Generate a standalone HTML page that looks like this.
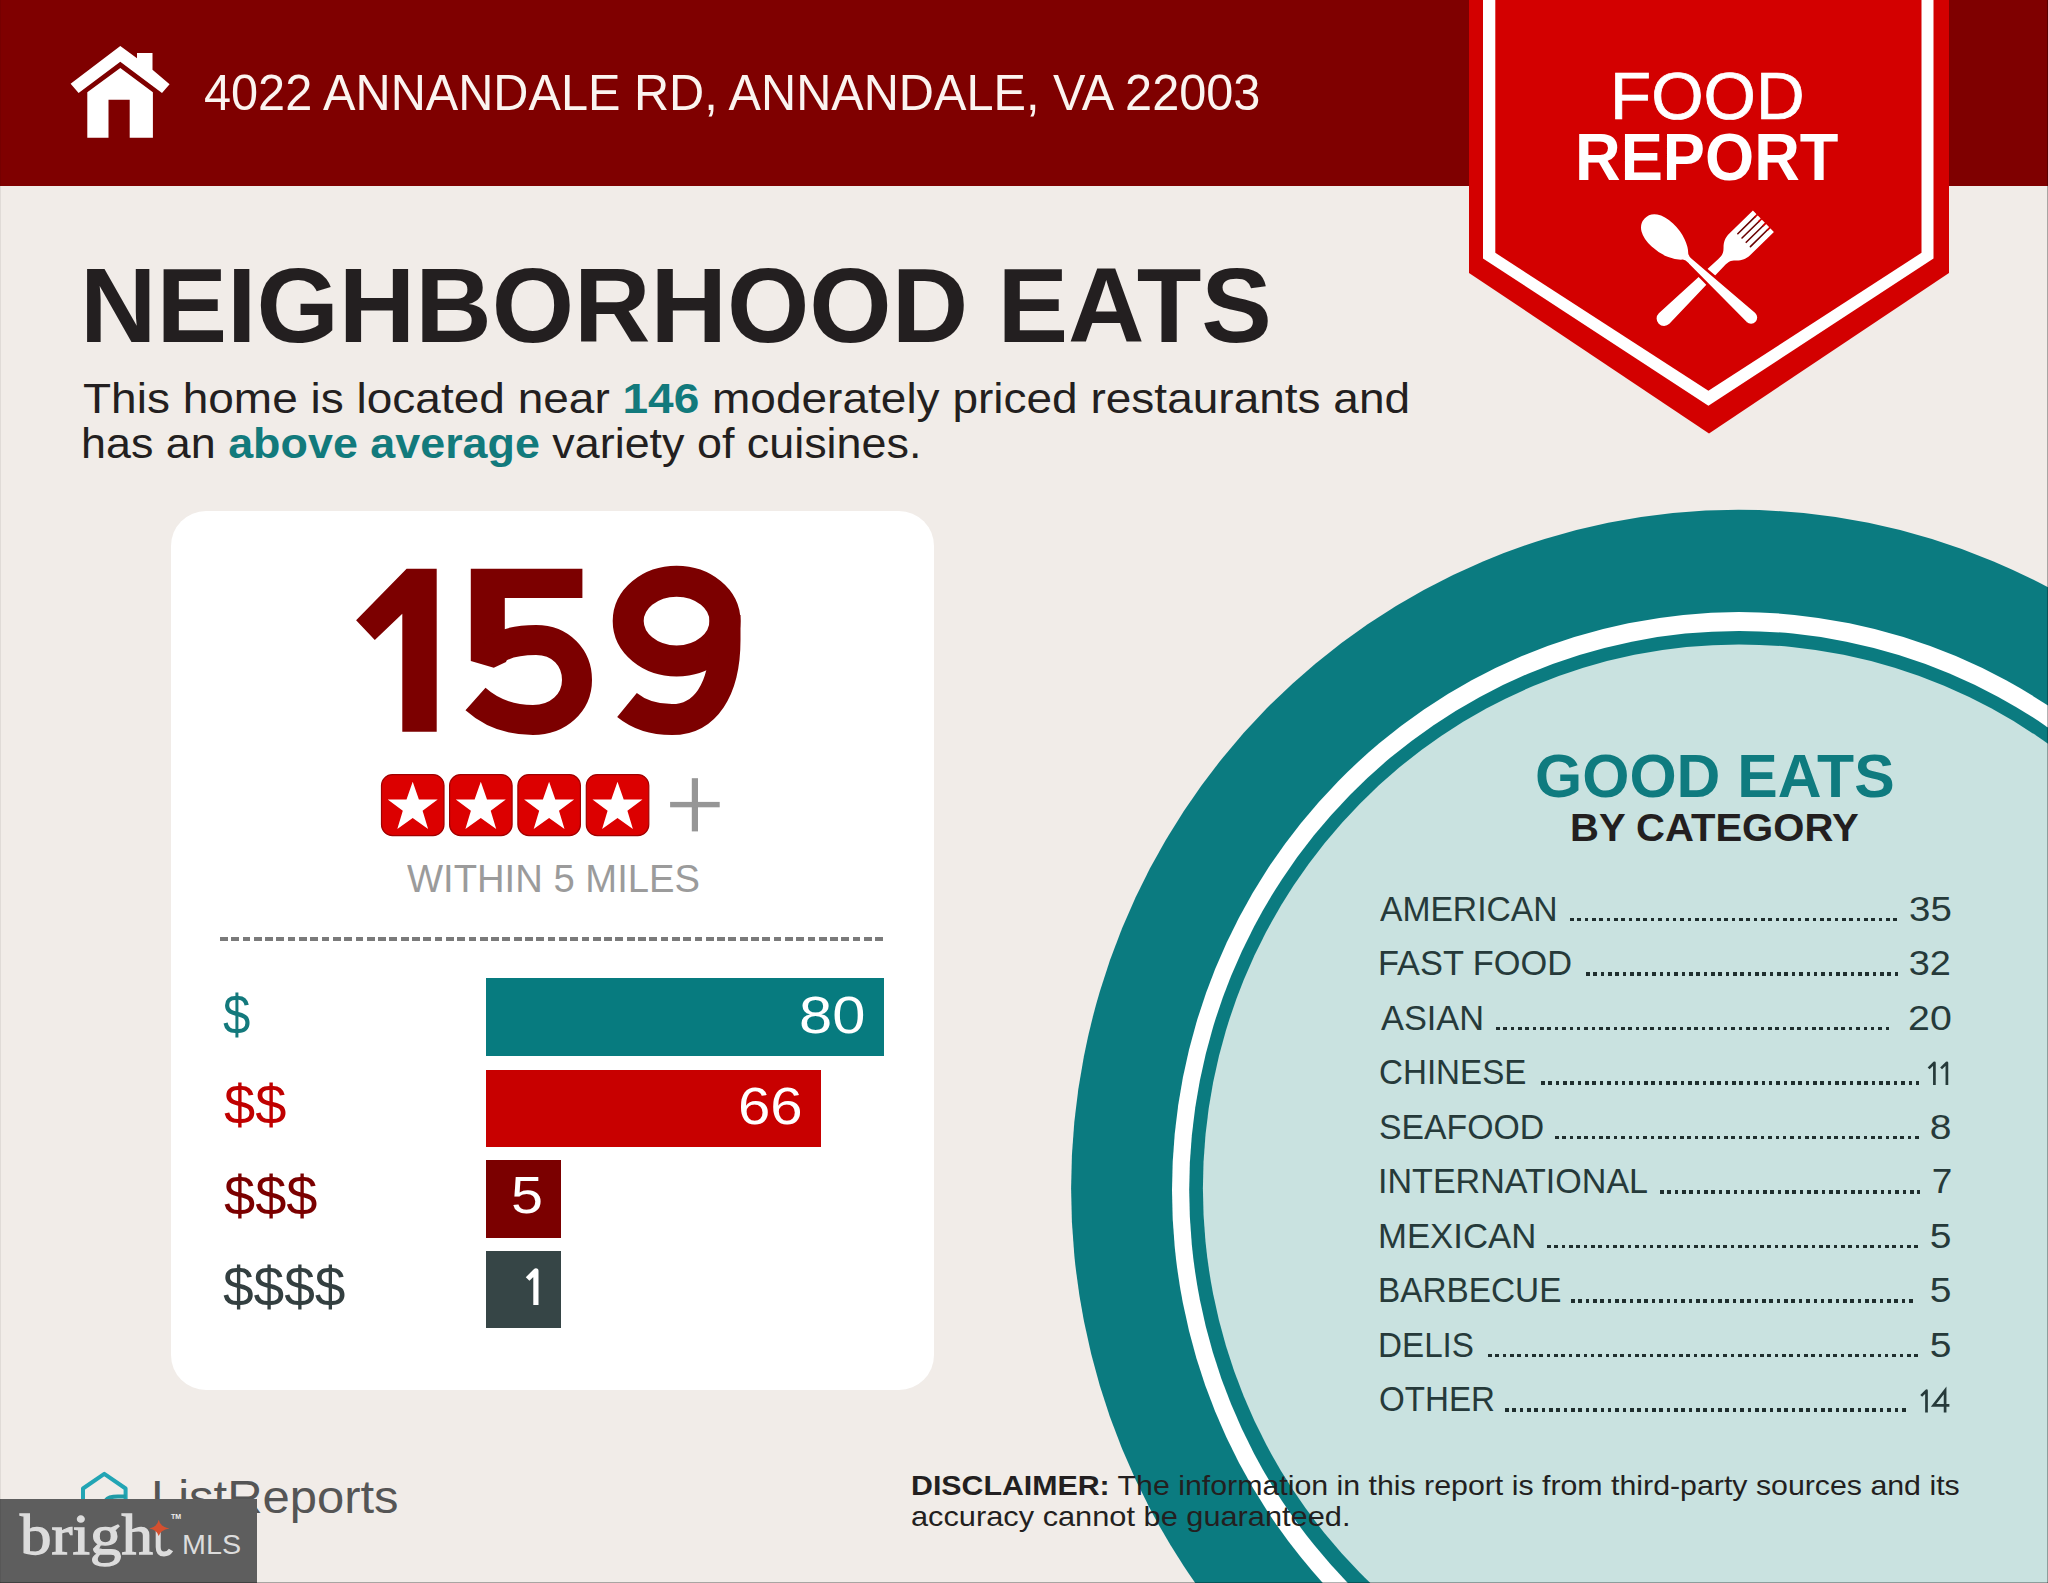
<!DOCTYPE html>
<html><head><meta charset="utf-8"><title>Food Report</title>
<style>
html,body{margin:0;padding:0;}
body{width:2048px;height:1583px;overflow:hidden;background:#f1ece8;font-family:"Liberation Sans",sans-serif;}
#pg{position:relative;width:2048px;height:1583px;overflow:hidden;background:#f1ece8;}
.a{position:absolute;white-space:nowrap;line-height:1;}
.sx{display:inline-block;}
.teal{color:#127a7c;font-weight:bold;}
.dots{position:absolute;height:3.6px;background:repeating-linear-gradient(90deg,#1f2e2e 0 3.6px,transparent 3.6px 7.35px);}
.bar{position:absolute;left:486px;height:77.5px;}
</style></head>
<body><div id="pg">
<div style="position:absolute;left:0;top:0;width:2048px;height:186px;background:#7f0000;"></div>
<svg style="position:absolute;left:0;top:0" width="200" height="186" viewBox="0 0 200 186">
  <path fill="#fff" d="M120.3,45.9 L137,58.3 L137,53.1 L152.5,53.1 L152.5,69.8 L169.6,84.2 L162,92.9 L120.3,61.8 L78.6,92.9 L70.6,83.8 Z"/>
  <path fill="#fff" d="M87.3,92.2 L120.3,67.9 L152.9,92.2 L152.9,137.7 L129.7,137.7 L129.7,99.7 L108.5,99.7 L108.5,137.7 L87.3,137.7 Z"/>
</svg>
<div class="a" style="left:204.01px;top:68.38px;font-size:49.40px;color:#fbf4f0;"><span class="sx" id="addr" style="transform:scaleX(0.9850);transform-origin:0 0">4022 ANNANDALE RD, ANNANDALE, VA 22003</span></div>
<svg style="position:absolute;left:0;top:0" width="2048" height="440" viewBox="0 0 2048 440">
  <polygon fill="#d30000" points="1469,0 1949,0 1949,273 1709,433.5 1469,273"/>
  <polygon fill="#ffffff" points="1483,0 1933.5,0 1933.5,258.5 1708.4,405.8 1483,258.5"/>
  <polygon fill="#d30000" points="1495.3,0 1921.5,0 1921.5,252.8 1708.4,390.8 1495.3,252.8"/>
</svg>
<div class="a" style="left:1609.95px;top:62.08px;font-size:67.00px;color:#fff;-webkit-text-stroke:0.7px #fff;"><span class="sx" id="food" style="transform:scaleX(1.0055);transform-origin:0 0">FOOD</span></div>
<div class="a" style="left:1575.25px;top:122.88px;font-size:67.00px;color:#fff;font-weight:bold;"><span class="sx" id="report" style="transform:scaleX(0.9434);transform-origin:0 0">REPORT</span></div>
<svg style="position:absolute;left:0;top:0" width="2048" height="440" viewBox="0 0 2048 440">
 <g transform="translate(1664.1,318.5) rotate(-44.4)">
  <path fill="#fff" d="M0,-7.5 L80,-4.5 C86,-4.5 88,-5 92,-9 C96,-13 100,-15 106,-15 L139,-15 L139,15 L106,15 C100,15 96,13 92,9 C88,5 86,4.5 80,4.5 L0,7.5 A7.5,7.5 0 0 1 0,-7.5 Z"/>
  <g stroke="#6a0000" stroke-width="1.6" stroke-linecap="round"><line x1="112" y1="-9" x2="136" y2="-9"/><line x1="112" y1="-3" x2="136" y2="-3"/><line x1="112" y1="3" x2="136" y2="3"/><line x1="112" y1="9" x2="136" y2="9"/><line x1="136" y1="-9" x2="141" y2="-9" stroke="#d30000" stroke-width="1.8"/><line x1="136" y1="-3" x2="141" y2="-3" stroke="#d30000" stroke-width="1.8"/><line x1="136" y1="3" x2="141" y2="3" stroke="#d30000" stroke-width="1.8"/><line x1="136" y1="9" x2="141" y2="9" stroke="#d30000" stroke-width="1.8"/></g>
 </g>
 <g transform="translate(1666,238.5) rotate(42.9)">
  <path fill="#fff" stroke="#d30000" stroke-width="2.6" d="M-30.5,0 C-30.5,-11 -20,-17 -5,-17 C10,-17 22,-11 27.5,-5 C29.5,-3.5 31,-3.8 34,-4 L116,-7.5 A7.5,7.5 0 0 1 116,7.5 L34,4 C31,3.8 29.5,3.5 27.5,5 C22,11 10,17 -5,17 C-20,17 -30.5,11 -30.5,0 Z"/>
 </g>
</svg>
<div class="a" style="left:80.01px;top:251.52px;font-size:106.00px;color:#231f20;font-weight:bold;"><span class="sx" id="title" style="transform:scaleX(0.9987);transform-origin:0 0">NEIGHBORHOOD EATS</span></div>
<div class="a" style="left:82.67px;top:377.10px;font-size:43.00px;color:#231f20;"><span class="sx" id="p1" style="transform:scaleX(1.0698);transform-origin:0 0">This home is located near <span class="teal">146</span> moderately priced restaurants and</span></div>
<div class="a" style="left:80.63px;top:422.10px;font-size:43.00px;color:#231f20;"><span class="sx" id="p2" style="transform:scaleX(1.0433);transform-origin:0 0">has an <span class="teal">above average</span> variety of cuisines.</span></div>
<svg style="position:absolute;left:0;top:0" width="2048" height="1583" viewBox="0 0 2048 1583">
  <ellipse cx="1738.3" cy="1188.6" rx="667.2" ry="678.8" fill="#0b7b80"/>
  <ellipse cx="1738.9" cy="1190.3" rx="566.9" ry="578.2" fill="#ffffff"/>
  <ellipse cx="1739.1" cy="1190.1" rx="549.9" ry="559.2" fill="#0b7b80"/>
  <ellipse cx="1739.0" cy="1188.2" rx="536.1" ry="543.8" fill="#c9e2e0"/>
</svg>
<div style="position:absolute;left:171px;top:511px;width:762.5px;height:879px;background:#fff;border-radius:35px;"></div>
<svg style="position:absolute;left:340px;top:555px" width="420" height="190" viewBox="340 555 420 190">
 <g fill="#7c0000">
  <polygon points="406.6,568.8 436.7,568.8 436.7,731.8 402.3,731.8 402.3,613.8 374.8,640 356.1,620.2"/>
  <polygon points="470.8,568.8 582.4,568.8 582.4,598.1 504.8,598.1 504.8,645 512,646 506,662 493.8,667.7 470.8,661.1"/>
 </g>
 <g fill="none" stroke="#7c0000" stroke-linecap="butt">
  <path stroke-width="30" d="M492,652 C503,643 520,640 536,640 C561,640 577,658 577,680 C577,703 558,720 533,720 C510,720 490,712 475.5,699"/>
  <ellipse cx="676.6" cy="621.1" rx="48.4" ry="39.9" stroke-width="31"/>
  <path stroke-width="31" d="M725,615 L725,640 C725,690 705,719.6 672,719.6 C652,719.6 638,714 627,705"/>
 </g>
</svg>
<svg style="position:absolute;left:370px;top:765px" width="370" height="80" viewBox="370 765 370 80">
  <defs>
    <g id="stb">
      <rect x="0" y="0" width="62.5" height="61" rx="11" ry="11" fill="#dc0000" stroke="#a00000" stroke-width="1.2"/>
      <polygon fill="#fff" points="31.2,7.2 37.4,24.9 56.2,24.9 41.1,36.1 46.6,54.4 31.2,43.4 15.8,54.4 21.3,36.1 6.2,24.9 25,24.9"/>
    </g>
  </defs>
  <use href="#stb" x="381.5" y="774.6"/>
  <use href="#stb" x="449.6" y="774.6"/>
  <use href="#stb" x="517.9" y="774.6"/>
  <use href="#stb" x="586.3" y="774.6"/>
  <rect x="691.8" y="778.2" width="6.2" height="53.2" fill="#969696"/>
  <rect x="670.1" y="801.9" width="49.6" height="5.4" fill="#969696"/>
</svg>
<div class="a" style="left:407.00px;top:858.59px;font-size:39.00px;color:#9b9b9b;"><span class="sx" id="within" style="transform:scaleX(0.9798);transform-origin:0 0">WITHIN 5 MILES</span></div>
<div style="position:absolute;left:220px;top:937px;width:664px;height:4px;background:repeating-linear-gradient(90deg,#7a7a7a 0 7.7px,transparent 7.7px 11.3px);"></div>
<div class="bar" style="top:978px;width:398px;background:#077b7f"></div>
<div class="bar" style="top:1069.5px;width:334.5px;background:#c80000"></div>
<div class="bar" style="top:1160px;width:75px;background:#7b0000"></div>
<div class="bar" style="top:1250.5px;width:75px;background:#364546"></div>
<div class="a" style="left:223.15px;top:986.60px;font-size:56.00px;color:#13797c;"><span class="sx" id="d1" style="transform:scaleX(0.8772);transform-origin:0 0">$</span></div>
<div class="a" style="left:224.00px;top:1077.00px;font-size:56.00px;color:#c00000;"><span class="sx" id="d2" style="transform:scaleX(1.0000);transform-origin:0 0">$$</span></div>
<div class="a" style="left:224.00px;top:1167.60px;font-size:56.00px;color:#7b0000;"><span class="sx" id="d3" style="transform:scaleX(1.0000);transform-origin:0 0">$$$</span></div>
<div class="a" style="left:223.05px;top:1258.60px;font-size:56.00px;color:#333f40;"><span class="sx" id="d4" style="transform:scaleX(0.9832);transform-origin:0 0">$$$$</span></div>
<div class="a" style="left:799.16px;top:990.13px;font-size:51.00px;color:#fff;"><span class="sx" id="b1" style="transform:scaleX(1.1698);transform-origin:0 0">80</span></div>
<div class="a" style="left:738.06px;top:1080.83px;font-size:51.00px;color:#fff;"><span class="sx" id="b2" style="transform:scaleX(1.1401);transform-origin:0 0">66</span></div>
<div class="a" style="left:510.70px;top:1170.33px;font-size:51.00px;color:#fff;"><span class="sx" id="b3" style="transform:scaleX(1.1266);transform-origin:0 0">5</span></div>
<svg style="position:absolute;left:520px;top:1262px" width="25" height="48" viewBox="520 1262 25 48"><path d="M535.9,1305 L535.9,1270.8 L527.6,1279" fill="none" stroke="#fff" stroke-width="5.2" stroke-linejoin="round" stroke-linecap="butt"/></svg>
<div class="a" style="left:1534.78px;top:745.53px;font-size:60.80px;color:#0f7b7f;font-weight:bold;"><span class="sx" id="g1" style="transform:scaleX(0.9981);transform-origin:0 0">GOOD EATS</span></div>
<div class="a" style="left:1569.85px;top:808.84px;font-size:38.70px;color:#231f20;font-weight:bold;"><span class="sx" id="g2" style="transform:scaleX(1.0354);transform-origin:0 0">BY CATEGORY</span></div>
<div class="a" style="left:1380.01px;top:891.66px;font-size:34.90px;color:#263a3a;"><span class="sx" id="c0" style="transform:scaleX(0.9637);transform-origin:0 0">AMERICAN</span></div>
<div class="dots" style="left:1570.2px;top:917.6px;width:327.00px"></div>
<div class="a" style="right:96.24px;text-align:right;top:891.66px;font-size:34.90px;color:#263a3a;"><span class="sx" id="n0" style="transform:scaleX(1.1012);transform-origin:100% 0">35</span></div>
<div class="a" style="left:1378.06px;top:946.19px;font-size:34.90px;color:#263a3a;"><span class="sx" id="c1" style="transform:scaleX(0.9846);transform-origin:0 0">FAST FOOD</span></div>
<div class="dots" style="left:1585.5px;top:972.1px;width:312.30px"></div>
<div class="a" style="right:96.83px;text-align:right;top:946.19px;font-size:34.90px;color:#263a3a;"><span class="sx" id="n1" style="transform:scaleX(1.0857);transform-origin:100% 0">32</span></div>
<div class="a" style="left:1380.98px;top:1000.72px;font-size:34.90px;color:#263a3a;"><span class="sx" id="c2" style="transform:scaleX(0.9842);transform-origin:0 0">ASIAN</span></div>
<div class="dots" style="left:1496.2px;top:1026.7px;width:393.15px"></div>
<div class="a" style="right:96.24px;text-align:right;top:1000.72px;font-size:34.90px;color:#263a3a;"><span class="sx" id="n2" style="transform:scaleX(1.1263);transform-origin:100% 0">20</span></div>
<div class="a" style="left:1379.12px;top:1055.25px;font-size:34.90px;color:#263a3a;"><span class="sx" id="c3" style="transform:scaleX(0.9503);transform-origin:0 0">CHINESE</span></div>
<div class="dots" style="left:1540.6px;top:1081.2px;width:378.45px"></div>
<svg style="position:absolute;left:1915px;top:1055px" width="40" height="35" viewBox="1915 1055 40 35"><g fill="none" stroke="#263a3a" stroke-width="2.7" stroke-linejoin="round" stroke-linecap="butt"><path d="M1934.4,1084.9 L1934.4,1062.8 L1928.6,1068.4"/><path d="M1946.9,1084.9 L1946.9,1062.8 L1941.1,1068.4"/></g></svg>
<div class="a" style="left:1379.11px;top:1109.78px;font-size:34.90px;color:#263a3a;"><span class="sx" id="c4" style="transform:scaleX(0.9673);transform-origin:0 0">SEAFOOD</span></div>
<div class="dots" style="left:1555.0px;top:1135.7px;width:363.75px"></div>
<div class="a" style="right:96.52px;text-align:right;top:1109.78px;font-size:34.90px;color:#263a3a;"><span class="sx" id="n4" style="transform:scaleX(1.1179);transform-origin:100% 0">8</span></div>
<div class="a" style="left:1378.10px;top:1164.31px;font-size:34.90px;color:#263a3a;"><span class="sx" id="c5" style="transform:scaleX(0.9765);transform-origin:0 0">INTERNATIONAL</span></div>
<div class="dots" style="left:1659.5px;top:1190.2px;width:260.85px"></div>
<div class="a" style="right:95.79px;text-align:right;top:1164.31px;font-size:34.90px;color:#263a3a;"><span class="sx" id="n5" style="transform:scaleX(1.0599);transform-origin:100% 0">7</span></div>
<div class="a" style="left:1378.04px;top:1218.84px;font-size:34.90px;color:#263a3a;"><span class="sx" id="c6" style="transform:scaleX(0.9959);transform-origin:0 0">MEXICAN</span></div>
<div class="dots" style="left:1547.0px;top:1244.8px;width:371.10px"></div>
<div class="a" style="right:96.52px;text-align:right;top:1218.84px;font-size:34.90px;color:#263a3a;"><span class="sx" id="n6" style="transform:scaleX(1.1179);transform-origin:100% 0">5</span></div>
<div class="a" style="left:1378.16px;top:1273.37px;font-size:34.90px;color:#263a3a;"><span class="sx" id="c7" style="transform:scaleX(0.9555);transform-origin:0 0">BARBECUE</span></div>
<div class="dots" style="left:1571.0px;top:1299.3px;width:341.70px"></div>
<div class="a" style="right:96.52px;text-align:right;top:1273.37px;font-size:34.90px;color:#263a3a;"><span class="sx" id="n7" style="transform:scaleX(1.1179);transform-origin:100% 0">5</span></div>
<div class="a" style="left:1378.18px;top:1327.90px;font-size:34.90px;color:#263a3a;"><span class="sx" id="c8" style="transform:scaleX(0.9517);transform-origin:0 0">DELIS</span></div>
<div class="dots" style="left:1488.0px;top:1353.8px;width:429.90px"></div>
<div class="a" style="right:96.52px;text-align:right;top:1327.90px;font-size:34.90px;color:#263a3a;"><span class="sx" id="n8" style="transform:scaleX(1.1179);transform-origin:100% 0">5</span></div>
<div class="a" style="left:1379.02px;top:1382.43px;font-size:34.90px;color:#263a3a;"><span class="sx" id="c9" style="transform:scaleX(0.9492);transform-origin:0 0">OTHER</span></div>
<div class="dots" style="left:1505.4px;top:1408.4px;width:400.50px"></div>
<svg style="position:absolute;left:1910px;top:1380px" width="45" height="40" viewBox="1910 1380 45 40"><g fill="none" stroke="#263a3a" stroke-width="2.7" stroke-linejoin="round" stroke-linecap="butt"><path d="M1926.5,1412.5 L1926.5,1390.7 L1921.2,1395.9"/><path d="M1945.1,1412.5 L1945.1,1390.4 L1933.6,1405.3 L1949.4,1405.3" stroke-linejoin="miter"/></g></svg>
<div class="a" style="left:911.41px;top:1471.44px;font-size:28.30px;color:#231f20;"><span class="sx" id="ds1" style="transform:scaleX(1.0710);transform-origin:0 0"><b>DISCLAIMER:</b> The information in this report is from third-party sources and its</span></div>
<div class="a" style="left:911.46px;top:1502.44px;font-size:28.30px;color:#231f20;"><span class="sx" id="ds2" style="transform:scaleX(1.0870);transform-origin:0 0">accuracy cannot be guaranteed.</span></div>
<svg style="position:absolute;left:0;top:1440px" width="300" height="143" viewBox="0 1440 300 143">
 <path d="M83,1502 L83,1488.5 L104.3,1473.8 L125.6,1488.5 L125.6,1502" fill="none" stroke="#22a5b4" stroke-width="4" stroke-linejoin="round"/>
 <path d="M106,1500 C108,1497 112,1496.5 118,1496.5 L126,1496.5" fill="none" stroke="#1e9aa6" stroke-width="4"/>
</svg>
<div class="a" style="left:151.25px;top:1473.86px;font-size:46px;color:#555;"><span class="sx" id="lr" style="transform:scaleX(1.0640);transform-origin:0 0">ListReports</span></div>
<div style="position:absolute;left:0;top:1499px;width:257px;height:84px;background:#5e5e5e;"></div>
<div class="a" style="left:20.09px;top:1505.60px;font-size:58px;color:#dcdcdc;font-family:'Liberation Serif',serif;font-weight:normal;-webkit-text-stroke:1.3px #dcdcdc;"><span class="sx" id="br" style="transform:scaleX(1.0855);transform-origin:0 0">brigh</span></div>
<svg style="position:absolute;left:140px;top:1510px" width="40" height="55" viewBox="140 1510 40 55">
 <path d="M158.2,1531 L158.2,1547 Q158.2,1554 164,1554 Q168.5,1554 171,1550" fill="none" stroke="#dcdcdc" stroke-width="5"/>
 <path fill="#d4502f" d="M158.7,1519.8 Q160,1527 169.5,1528.4 Q160,1530 158.7,1536 Q157.4,1530 149.2,1528.4 Q157.4,1527 158.7,1519.8 Z"/>
</svg>
<div class="a" style="left:171px;top:1513px;font-size:7px;color:#eee;font-weight:bold;">TM</div>
<div class="a" style="left:181.93px;top:1531.25px;font-size:27.7px;color:#dcdcdc;"><span class="sx" id="mls" style="transform:scaleX(1.0370);transform-origin:0 0">MLS</span></div>
<div style="position:absolute;right:0;top:0;width:1px;height:1583px;background:rgba(0,0,0,0.3)"></div>
<div style="position:absolute;left:0;bottom:0;width:2048px;height:1px;background:rgba(0,0,0,0.3)"></div>
<div style="position:absolute;left:0;top:0;width:1px;height:1583px;background:rgba(0,0,0,0.07)"></div>
</div></body></html>
